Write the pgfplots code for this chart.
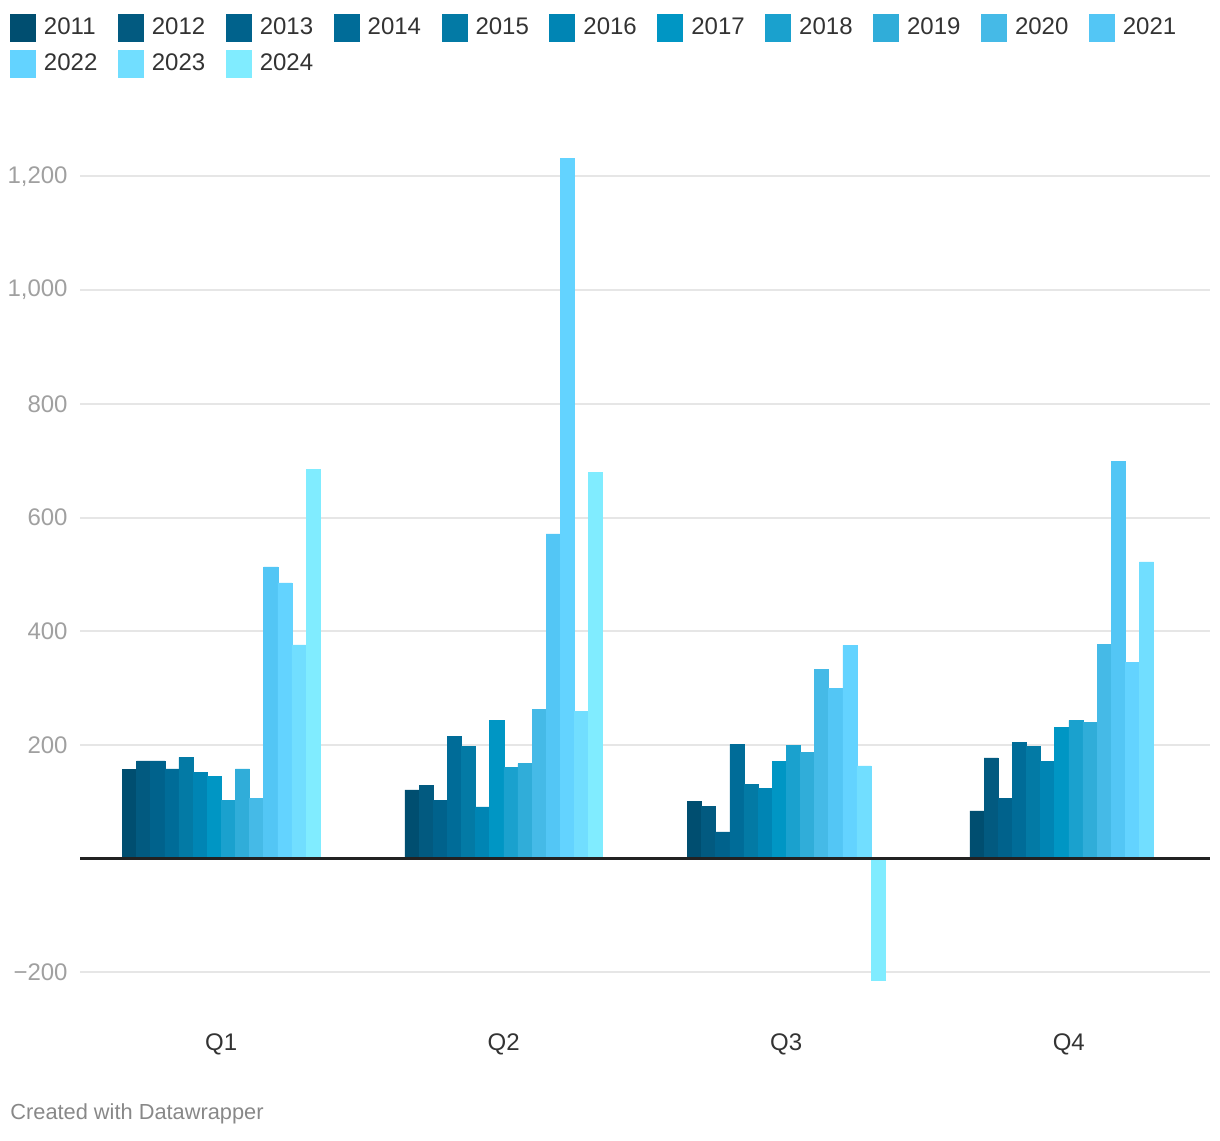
\documentclass[border=0pt]{standalone}
\usepackage{fontspec}
\setmainfont{Liberation Sans}
\usepackage{pgfplots}
\pgfplotsset{compat=1.18}
\definecolor{c2011}{HTML}{004E70}
\definecolor{c2012}{HTML}{025A80}
\definecolor{c2013}{HTML}{00628C}
\definecolor{c2014}{HTML}{006C98}
\definecolor{c2015}{HTML}{037AA5}
\definecolor{c2016}{HTML}{0085B4}
\definecolor{c2017}{HTML}{0096C4}
\definecolor{c2018}{HTML}{1AA1CE}
\definecolor{c2019}{HTML}{30ADD9}
\definecolor{c2020}{HTML}{45BAE7}
\definecolor{c2021}{HTML}{53C6F5}
\definecolor{c2022}{HTML}{63D3FF}
\definecolor{c2023}{HTML}{71DEFF}
\definecolor{c2024}{HTML}{80ECFF}
\definecolor{gridgray}{HTML}{E6E6E6}
\definecolor{tickgray}{HTML}{A0A0A0}
\definecolor{txt}{HTML}{333333}
\definecolor{zeroline}{HTML}{222222}
\definecolor{foot}{HTML}{888888}
\pgfplotsset{yb/.style={fill=#1, draw=#1, line width=0.25pt}}
\begin{document}
\begin{tikzpicture}
\useasboundingbox (0,0) rectangle (610pt,-570pt);
\begin{axis}[
  at={(40pt,-74pt)}, anchor=north west,
  width=565pt, height=423.5pt, scale only axis,
  xmin=-0.5, xmax=3.5, ymin=-240, ymax=1250,
  ybar=0pt, bar width=7.0625pt,
  axis line style={draw=none},
  major tick length=0pt,
  xtick={0,1,2,3}, xticklabels={Q1,Q2,Q3,Q4},
  ytick={-200,200,400,600,800,1000,1200},
  yticklabels={−200,200,400,600,800,{1,000},{1,200}},
  ymajorgrids, grid style={color=gridgray, line width=1pt},
  yticklabel style={anchor=east, inner sep=0pt, xshift=-6pt, font=\fontsize{12}{14}\selectfont, text=tickgray},
  xticklabel style={anchor=north, inner sep=0pt, yshift=-19pt, font=\fontsize{12}{14}\selectfont, text=txt},
  legend columns=11, legend cell align=left,
  legend style={at={(-0.06195,1.1582)}, anchor=north west, draw=none, fill=none,
    inner sep=0pt, outer sep=0pt, font=\fontsize{12}{14}\selectfont, text=txt,
    nodes={inner sep=0pt}, row sep=4pt,
    /tikz/every odd column/.append style={column sep=4pt},
    /tikz/every even column/.append style={column sep=10.25pt}},
  every axis plot post/.append style={legend image code/.code={\fill[##1,draw=none] (0pt,-7pt) rectangle (13pt,7pt);}},
]
\addplot[yb=c2011] coordinates {(0,157) (1,121) (2,101) (3,84)};
\addplot[yb=c2012] coordinates {(0,172) (1,129) (2,92) (3,177)};
\addplot[yb=c2013] coordinates {(0,172) (1,102) (2,47) (3,106)};
\addplot[yb=c2014] coordinates {(0,158) (1,215) (2,201) (3,205)};
\addplot[yb=c2015] coordinates {(0,178) (1,198) (2,131) (3,198)};
\addplot[yb=c2016] coordinates {(0,151) (1,91) (2,124) (3,171)};
\addplot[yb=c2017] coordinates {(0,144) (1,243) (2,171) (3,231)};
\addplot[yb=c2018] coordinates {(0,102) (1,160) (2,199) (3,243)};
\addplot[yb=c2019] coordinates {(0,158) (1,167) (2,187) (3,240)};
\addplot[yb=c2020] coordinates {(0,106) (1,262) (2,333) (3,377)};
\addplot[yb=c2021] coordinates {(0,513) (1,571) (2,299) (3,699)};
\addplot[yb=c2022] coordinates {(0,485) (1,1232) (2,375) (3,345)};
\addplot[yb=c2023] coordinates {(0,376) (1,259) (2,163) (3,522)};
\addplot[yb=c2024] coordinates {(0,685) (1,680) (2,-214)};
\legend{2011,2012,2013,2014,2015,2016,2017,2018,2019,2020,2021,2022,2023,2024}
\draw[zeroline, line width=1.3pt] (axis cs:-0.5,0) -- (axis cs:3.5,0);
\end{axis}
\node[anchor=west, inner sep=0pt, font=\fontsize{10.9}{12}\selectfont, text=foot] at (5pt,-557pt) {Created with Datawrapper};
\end{tikzpicture}
\end{document}
